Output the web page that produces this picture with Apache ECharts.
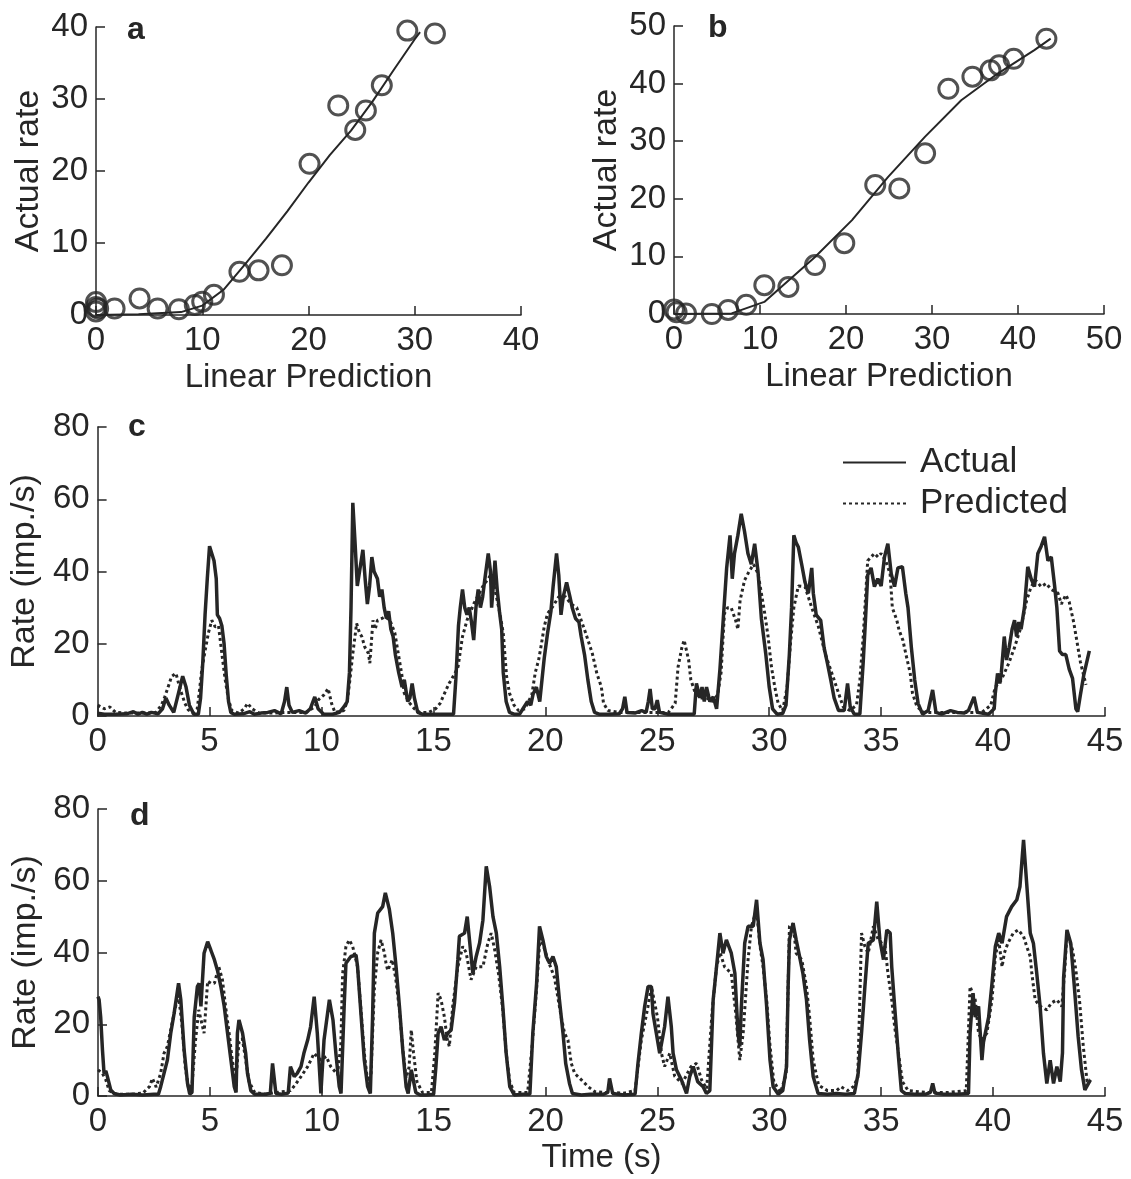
<!DOCTYPE html>
<html>
<head>
<meta charset="utf-8">
<script src="https://cdn.jsdelivr.net/npm/echarts@6/dist/echarts.min.js"></script>
<style>
html,body{margin:0;padding:0;background:#fff;}
#chart{width:1131px;height:1179px;}
</style>
</head>
<body>
<div id="chart"></div>
<script>
// ---------- Panel a: scatter (Linear Prediction, Actual rate) ----------
const aPoints = [[0,0.5],[0,1.1],[0,1.8],[0.2,0.9],[1.75,0.9],[4.1,2.3],[5.8,0.9],[7.8,0.8],[9.3,1.4],[10.0,1.85],[11.1,2.8],[13.5,6.0],[15.3,6.2],[17.5,6.9],[20.1,21.0],[22.8,29.1],[24.4,25.7],[25.4,28.4],[26.9,31.9],[29.3,39.5],[31.9,39.1]];
const aFit = [[0,0],[4,0.1],[8,0.4],[10,1.3],[12,3.5],[14,7],[16,10.6],[18,14.4],[20,18.4],[22,22.2],[24,25.6],[26,29.6],[28,34],[30,38.3],[30.5,39.3]];

// ---------- Panel b ----------
const bPoints = [[0,0.8],[0.3,0.3],[1.4,0.1],[4.4,0],[6.3,0.7],[8.4,1.6],[10.5,5.0],[13.3,4.7],[16.4,8.5],[19.8,12.3],[23.4,22.4],[26.2,21.8],[29.2,27.9],[31.9,39.1],[34.7,41.2],[36.8,42.3],[37.8,43.2],[39.5,44.3],[43.3,47.8]];
const bFit = [[0,0],[6.7,0.1],[10.5,2.1],[16.4,9.9],[20.7,16.3],[24.9,23.8],[29.2,30.8],[33.4,37.1],[37.6,41.7],[41.9,45.8],[43.8,47.8]];

// ---------- Panel c: time series (Time s, Rate imp./s) ----------
const cActual = [[0,0.8],[0.3,0.5],[0.8,0.5],[1.3,0.6],[1.6,1.2],[1.8,0.5],[2.0,1.0],[2.2,0.5],[2.4,1.0],[2.7,0.6],[2.9,2],[3.05,5],[3.2,3],[3.4,1],[3.6,6],[3.8,11],[3.95,8],[4.1,3],[4.3,0.5],[4.5,0.5],[4.6,5],[4.7,15],[4.8,28],[4.9,38],[5.0,47],[5.1,45],[5.2,43],[5.3,38],[5.35,28],[5.45,27],[5.55,25],[5.65,20],[5.75,11],[5.85,4],[5.95,1],[6.1,0.5],[6.5,0.6],[6.8,1.2],[7.0,0.5],[7.3,0.8],[7.6,1.0],[7.9,1.5],[8.2,0.6],[8.35,4],[8.45,8],[8.55,3],[8.7,1],[9.0,1.5],[9.3,0.8],[9.5,2],[9.7,5.3],[9.85,2],[10.1,0.5],[10.5,0.5],[10.8,1.0],[11.0,2.5],[11.15,4],[11.25,12],[11.32,30],[11.4,59],[11.5,48],[11.6,36],[11.7,40],[11.85,46],[11.95,38],[12.05,31],[12.15,36],[12.25,44],[12.35,40],[12.5,38],[12.6,33],[12.7,35],[12.8,30],[12.9,27],[13.0,29],[13.1,24],[13.2,22],[13.3,17],[13.45,12],[13.6,8],[13.7,10],[13.85,4],[13.95,5],[14.05,9],[14.15,5],[14.3,1],[14.5,0.5],[15.0,0.5],[15.5,0.5],[15.9,0.5],[16.0,10],[16.05,16],[16.12,25],[16.2,30],[16.3,35],[16.4,30],[16.5,28],[16.6,30],[16.7,26],[16.8,21],[16.9,30],[17.0,35],[17.1,30],[17.2,33],[17.3,38],[17.45,45],[17.55,40],[17.6,30],[17.7,38],[17.75,43],[17.85,35],[17.95,29],[18.05,24],[18.12,12],[18.25,4],[18.4,1],[18.6,0.5],[18.85,0.5],[19.0,2],[19.2,4],[19.35,3],[19.45,6],[19.6,8],[19.75,4],[19.85,10],[19.95,16],[20.1,23],[20.25,29],[20.35,36],[20.5,45],[20.6,39],[20.7,28],[20.8,33],[20.95,37],[21.1,33],[21.2,30],[21.35,27],[21.5,26],[21.6,22],[21.75,17],[21.9,10],[22.05,4],[22.2,1],[22.4,0.5],[22.8,0.5],[23.3,0.6],[23.45,2],[23.55,5.3],[23.65,1],[24.0,0.8],[24.3,1.5],[24.5,1],[24.6,4],[24.68,7.5],[24.78,2],[24.9,2],[25.0,4.4],[25.1,1],[25.5,0.5],[26.0,0.5],[26.65,0.5],[26.75,9],[26.9,5],[27.0,8],[27.1,4],[27.2,8],[27.35,4],[27.5,5.3],[27.65,2],[27.8,13],[27.95,27],[28.1,41],[28.25,50],[28.35,38],[28.45,45],[28.6,50],[28.75,56],[28.9,51],[29.05,45],[29.2,42],[29.35,47.7],[29.5,40],[29.65,27],[29.85,17],[30.0,8],[30.15,2],[30.35,0.5],[30.6,0.7],[30.75,3],[30.9,17],[31.0,30],[31.1,50],[31.2,48],[31.3,46.8],[31.45,42],[31.6,37],[31.75,34],[31.9,41],[31.97,34],[32.1,28],[32.3,26.5],[32.45,19],[32.6,14.6],[32.75,10],[32.9,5],[33.1,1.5],[33.35,1.5],[33.5,9],[33.62,2.5],[33.8,0.5],[34.05,0.5],[34.2,15],[34.3,26.5],[34.4,39],[34.55,41],[34.7,35.8],[34.85,38],[35.0,36],[35.15,44],[35.3,47.7],[35.45,39.4],[35.6,35.8],[35.75,41],[35.95,41.3],[36.1,34],[36.2,30],[36.35,19],[36.5,10],[36.65,3.5],[36.85,0.5],[37.1,1.5],[37.3,7.2],[37.45,1],[37.7,0.5],[38.1,1.5],[38.4,1],[38.7,0.8],[38.9,1.5],[39.15,5.3],[39.3,1],[39.8,0.5],[40.05,2],[40.1,6.3],[40.2,11.8],[40.3,9],[40.37,12],[40.5,22],[40.6,15.5],[40.72,19],[40.85,24],[40.96,26.5],[41.05,22],[41.15,26],[41.25,24],[41.4,30],[41.55,41.3],[41.7,38],[41.85,35.8],[42.0,45],[42.15,47],[42.3,49.6],[42.45,43],[42.6,44],[42.75,36],[42.85,30],[42.97,18],[43.1,17],[43.25,17],[43.4,13],[43.55,10.4],[43.7,2],[43.78,1.2],[43.9,5.8],[44.05,11.3],[44.3,18]];
const cPredicted = [[0,3],[0.3,2],[0.55,2.5],[0.8,1],[1.2,0.8],[1.7,0.8],[2.2,0.8],[2.6,1],[2.85,3],[3.0,5.3],[3.15,8],[3.3,10.9],[3.5,11.8],[3.62,9],[3.75,6.3],[3.9,3.5],[4.05,1.7],[4.25,0.8],[4.45,2],[4.55,7],[4.65,12.7],[4.8,18],[4.95,23],[5.1,26.5],[5.25,24.7],[5.4,25],[5.55,17.3],[5.7,10],[5.85,4.4],[6.0,1.5],[6.3,0.8],[6.55,2],[6.7,3.5],[6.9,2],[7.2,0.8],[7.8,0.8],[8.4,1],[8.8,1],[9.3,1],[9.7,2.5],[9.85,4.4],[10.1,5.8],[10.3,7.6],[10.45,3.5],[10.6,1],[11.0,1.5],[11.15,4],[11.27,10],[11.4,17.3],[11.57,25.6],[11.7,23],[11.8,22],[11.94,19],[12.1,17.3],[12.16,14.6],[12.3,26.5],[12.4,24],[12.5,26.5],[12.7,27],[12.84,27.5],[13.06,26.5],[13.28,22.9],[13.43,17.3],[13.58,11.8],[13.7,6.3],[13.95,3.5],[14.15,2],[14.4,1],[14.8,1],[15.1,2],[15.3,3.5],[15.5,6.3],[15.7,9],[15.96,11.8],[16.1,13.6],[16.3,22],[16.5,26.5],[16.8,31],[17.2,35.8],[17.6,39.4],[17.97,28.4],[18.12,22.9],[18.19,17.3],[18.27,10.9],[18.4,6.3],[18.6,3],[18.8,1.5],[19.1,2],[19.4,6],[19.55,12],[19.7,15.5],[19.8,19],[19.95,24.7],[20.1,28.4],[20.3,30],[20.6,33],[20.9,33],[21.15,31],[21.4,30],[21.6,26.5],[21.8,23],[22.1,17.3],[22.3,11.8],[22.5,8.1],[22.6,3.5],[22.8,1.5],[23.3,1],[24,1],[24.8,1],[25.5,1],[25.8,3.5],[25.93,13.6],[26.1,19],[26.2,21],[26.4,15.5],[26.5,10],[26.7,6.3],[26.9,5],[27.2,5],[27.5,4],[27.7,6],[27.85,12],[28.0,28.4],[28.15,30],[28.3,30],[28.5,26.5],[28.6,24],[28.7,32],[28.9,37.6],[29.1,40],[29.3,42],[29.5,39.4],[29.65,34],[29.8,28.4],[29.95,22],[30.1,13.6],[30.25,8],[30.4,3.5],[30.6,1.5],[30.8,8],[30.95,20],[31.1,30],[31.3,36],[31.6,35.8],[31.9,30],[32.2,24.7],[32.5,17.3],[32.8,11.8],[33.1,6.3],[33.3,2.6],[33.6,1.5],[33.9,3],[34.05,10],[34.2,22],[34.4,43],[34.7,45],[34.86,44],[35.0,45],[35.2,43],[35.4,39.4],[35.5,30],[35.7,26.5],[35.8,23.8],[35.97,21],[36.1,17.3],[36.3,11.8],[36.4,6.3],[36.6,2.6],[36.9,1],[37.5,1],[38.5,1],[39.5,1],[39.9,3],[40.1,8],[40.37,10],[40.7,14.6],[40.96,19],[41.25,24.7],[41.5,32],[41.7,35.8],[41.9,37.6],[42.15,35.8],[42.37,36.7],[42.6,35],[42.9,34],[43.05,31],[43.25,33.5],[43.4,31.6],[43.6,26],[43.75,20.5],[43.9,15],[44.15,8.6]];

// ---------- Panel d ----------
const dActual = [[0,27.7],[0.05,26.8],[0.12,22],[0.2,12.8],[0.27,6.3],[0.35,7],[0.42,5.4],[0.57,1.7],[0.72,0.7],[1.0,0.3],[1.5,0.5],[2.0,0.3],[2.5,0.5],[2.7,0.5],[2.8,2.6],[2.95,6.3],[3.1,10],[3.25,17.5],[3.4,23],[3.6,31.4],[3.7,26.8],[3.85,12.8],[4.0,3.5],[4.1,0.5],[4.2,1],[4.3,22],[4.44,30.5],[4.52,31.4],[4.6,25],[4.74,39.8],[4.9,43],[5.04,40.7],[5.2,38],[5.34,35],[5.49,30.5],[5.64,25],[5.79,17.5],[5.94,10],[6.09,2.6],[6.17,1],[6.23,17.5],[6.3,21.2],[6.46,17.5],[6.6,11.9],[6.68,6.3],[6.83,1.5],[7.0,0.5],[7.5,0.5],[7.7,0.8],[7.8,9.1],[7.95,0.7],[8.2,0.5],[8.5,0.8],[8.6,8.2],[8.77,5.4],[8.9,6.3],[9.07,8.2],[9.2,11.9],[9.37,15.6],[9.5,19.3],[9.66,27.7],[9.8,17.5],[9.96,0.7],[10.1,15.6],[10.34,26.8],[10.5,21.2],[10.63,11.9],[10.78,2.6],[10.86,0.7],[11.0,25],[11.08,37],[11.3,38.9],[11.53,39.3],[11.6,36],[11.75,23],[11.9,10],[12.05,2.6],[12.17,0.7],[12.27,22],[12.35,45.4],[12.5,51],[12.72,52.8],[12.84,56.6],[13.02,52],[13.17,45.4],[13.32,36],[13.47,25],[13.62,12.8],[13.77,2.6],[13.86,0.7],[14.0,7.3],[14.2,1],[14.4,0.3],[14.7,0.3],[15.0,0.5],[15.1,8.2],[15.2,17.5],[15.33,19.3],[15.48,15.6],[15.63,17.5],[15.78,18.4],[15.93,25.9],[16.08,38],[16.15,44.5],[16.38,45.4],[16.5,50],[16.6,43.5],[16.75,34.2],[16.9,38.9],[17.05,42.6],[17.2,49],[17.35,64],[17.5,58.4],[17.65,50],[17.8,45.4],[17.95,36],[18.09,25],[18.24,11.9],[18.4,2.6],[18.6,0.3],[19.0,0.5],[19.3,0.5],[19.43,17.5],[19.6,31.4],[19.73,47.3],[19.88,43.5],[20.03,38.9],[20.18,37],[20.33,38.9],[20.48,36],[20.62,26.8],[20.78,17.5],[20.9,9.1],[21.07,3.5],[21.2,0.7],[21.6,0.3],[22.0,0.5],[22.6,0.5],[22.78,1],[22.86,4.9],[23.0,0.7],[23.5,0.3],[24.0,0.5],[24.13,9.1],[24.28,17.5],[24.43,25],[24.58,30.5],[24.73,30.5],[24.8,23],[24.95,17.5],[25.1,11.9],[25.32,19.3],[25.47,27.7],[25.62,19.3],[25.7,11.9],[25.85,7.3],[26.07,4.5],[26.3,0.7],[26.44,5.4],[26.6,8.2],[26.8,4],[27.04,2.6],[27.19,0.7],[27.34,1.5],[27.49,26.8],[27.64,36],[27.79,45.4],[27.93,39.8],[28.08,43.5],[28.16,43.5],[28.3,39.8],[28.46,34.2],[28.6,17.5],[28.68,13.8],[28.75,25],[28.9,42.6],[29.05,47.3],[29.28,47.3],[29.43,54.7],[29.58,42.6],[29.72,38],[29.88,25],[30.03,10],[30.17,2.6],[30.4,0.5],[30.6,1.5],[30.77,8.2],[30.84,30.5],[30.9,43.5],[31.06,48.2],[31.2,43.5],[31.35,38.9],[31.5,34.2],[31.66,26.8],[31.8,15.6],[31.96,5.4],[32.18,0.7],[32.6,0.5],[33.0,0.7],[33.4,0.5],[33.8,0.7],[33.97,6.3],[34.12,17.5],[34.27,30.5],[34.42,42.6],[34.65,43.5],[34.8,54.2],[34.94,43.5],[35.1,38],[35.25,46.3],[35.4,45.4],[35.47,36],[35.6,25],[35.77,11],[35.9,1.5],[36.07,0.7],[36.5,0.5],[37.0,0.5],[37.2,1],[37.3,3.5],[37.4,0.8],[37.8,0.5],[38.4,0.5],[38.9,0.7],[38.97,17.5],[39.1,28.7],[39.2,22],[39.35,25],[39.5,10],[39.57,15],[39.8,22],[39.95,31.4],[40.1,41.7],[40.25,45.4],[40.4,42.6],[40.6,50],[40.83,52.8],[41.06,54.7],[41.2,58.4],[41.36,71.4],[41.5,59.3],[41.66,45.4],[41.8,42.6],[41.95,34.2],[42.1,25],[42.25,11.9],[42.4,3.5],[42.55,10],[42.7,3.5],[42.85,8.2],[43.0,4],[43.1,12],[43.15,33],[43.3,46.3],[43.47,42.6],[43.63,30.5],[43.8,16.6],[43.95,7.3],[44.1,1.7],[44.35,4.5]];
const dPredicted = [[0,7.3],[0.2,6.3],[0.35,4.5],[0.5,1.5],[0.8,0.5],[1.5,0.5],[2.0,0.8],[2.3,2.6],[2.43,4.9],[2.6,2.5],[2.8,6.3],[2.95,11.9],[3.1,13.8],[3.3,20],[3.47,25],[3.6,28],[3.75,20],[3.9,8],[4.05,2],[4.2,3],[4.35,15],[4.5,24],[4.74,17.5],[4.9,32],[5.05,31.4],[5.2,31.4],[5.4,36],[5.56,32.4],[5.7,25],[5.86,17.5],[6.0,10],[6.16,4.5],[6.3,15],[6.45,16],[6.6,10],[6.75,4],[7.0,1],[7.5,0.5],[8.0,1],[8.6,1.5],[8.8,3],[9.07,5.4],[9.37,8.2],[9.66,11.9],[9.96,10],[10.2,11],[10.4,8.2],[10.7,6],[10.85,14],[10.93,34],[11.08,41.7],[11.23,43.5],[11.38,41.7],[11.6,36],[11.75,24],[11.9,12],[12.05,4],[12.2,6],[12.35,30],[12.5,40],[12.65,43.5],[12.8,39.8],[12.87,37],[12.95,35],[13.15,38],[13.3,33],[13.47,24],[13.62,13],[13.77,5],[13.9,8],[14.0,18.4],[14.1,12],[14.25,4],[14.5,1],[14.9,1],[15.05,12],[15.2,28.7],[15.33,26.8],[15.48,22],[15.6,16],[15.7,13.8],[15.85,25],[16.08,36],[16.3,41.7],[16.45,40],[16.67,32.4],[16.9,36],[17.2,36],[17.42,42.6],[17.57,45.4],[17.72,41],[17.9,34],[18.09,24],[18.24,12],[18.4,4],[18.6,1],[19.2,1],[19.4,14],[19.6,30],[19.75,44],[19.9,42],[20.1,38],[20.4,33],[20.7,22],[20.85,17.5],[21.0,15.6],[21.15,9.1],[21.3,6.3],[21.6,4.5],[21.9,2.6],[22.2,1.2],[22.6,1],[23.0,1],[23.5,0.8],[24.0,1.5],[24.28,15.6],[24.58,25],[24.73,30.5],[25.0,22],[25.18,11.9],[25.32,8.2],[25.55,11.9],[25.77,5.5],[26.1,3.5],[26.5,8.2],[26.75,9.1],[26.97,4.5],[27.2,2],[27.45,24],[27.64,36],[27.8,40],[28.0,36],[28.3,34.2],[28.5,23],[28.68,10],[28.83,17.5],[29.05,38],[29.2,47.3],[29.43,51.9],[29.58,42],[29.72,36],[29.88,26.8],[30.03,14],[30.2,4],[30.5,1],[30.75,6],[30.9,47.3],[31.06,48],[31.2,39.8],[31.45,38],[31.66,30.5],[31.8,22],[31.96,10],[32.2,3],[32.6,1.5],[33.0,1.5],[33.2,2.6],[33.5,1.5],[33.75,2.6],[33.95,5],[34.12,45.4],[34.27,41.7],[34.42,39.8],[34.65,47.3],[34.87,43.5],[35.17,41.7],[35.3,34.2],[35.47,26.8],[35.6,19.3],[35.77,11.9],[35.95,4],[36.2,1.5],[37,1],[38,1],[38.8,1.5],[38.97,30.5],[39.2,26.8],[39.35,17.5],[39.5,15.6],[39.72,17.5],[39.95,26.8],[40.1,38.9],[40.25,43.5],[40.4,36],[40.5,39.8],[40.66,42.6],[40.9,45.4],[41.12,46.3],[41.36,44.5],[41.5,41.7],[41.66,38.9],[41.73,34.2],[41.88,26.8],[42.1,25],[42.4,24],[42.6,25.9],[42.85,26.8],[43.07,25],[43.2,35],[43.3,45.4],[43.55,40.7],[43.7,35],[43.87,26],[44.03,13.8],[44.2,4],[44.35,4.5]];

// ---------- Text ----------
const panelLetters = ['a','b','c','d'];
const seriesNames = ['Actual','Predicted'];
const xNames = ['Linear Prediction','Linear Prediction','','Time (s)'];
const yNames = ['Actual rate','Actual rate','Rate (imp./s)','Rate (imp./s)'];

const INK = '#262626';
const FONT = '"Liberation Sans", Arial, Helvetica, sans-serif';

function xAxis(gi, max, interval, name, gap){
  return {type:'value', gridIndex:gi, min:0, max:max, interval:interval,
    name:name, nameLocation:'middle', nameGap:gap,
    nameTextStyle:{fontSize:33, color:INK, fontFamily:FONT},
    axisLine:{show:true, onZero:false, lineStyle:{color:INK, width:1.5}},
    axisTick:{show:true, inside:true, length:9, lineStyle:{color:INK, width:1.5}},
    axisLabel:{fontSize:33, color:INK, fontFamily:FONT, margin:9, showMinLabel:true, showMaxLabel:true},
    splitLine:{show:false}};
}
function yAxis(gi, max, interval, name, gap){
  return {type:'value', gridIndex:gi, min:0, max:max, interval:interval,
    name:name, nameLocation:'middle', nameGap:gap,
    nameTextStyle:{fontSize:34, color:INK, fontFamily:FONT},
    axisLine:{show:true, onZero:false, lineStyle:{color:INK, width:1.5}},
    axisTick:{show:true, inside:true, length:9, lineStyle:{color:INK, width:1.5}},
    axisLabel:{fontSize:33, color:INK, fontFamily:FONT, margin:8, showMinLabel:true, showMaxLabel:true},
    splitLine:{show:false}};
}
function scatter(gi, data){
  return {type:'scatter', xAxisIndex:gi, yAxisIndex:gi, data:data, symbol:'circle', symbolSize:19,
    itemStyle:{color:'rgba(255,255,255,0)', borderColor:INK, borderWidth:3}, z:3, silent:true};
}
function fitLine(gi, data){
  return {type:'line', xAxisIndex:gi, yAxisIndex:gi, data:data, symbol:'none', showSymbol:false,
    lineStyle:{color:INK, width:2}, z:2, silent:true};
}
function trace(gi, name, data, dashed){
  return {type:'line', name:name, xAxisIndex:gi, yAxisIndex:gi, data:data, symbol:'none', showSymbol:false,
    lineStyle:{color:INK, width:dashed?3:3.5, type:dashed?[3,3]:'solid'},
    itemStyle:{color:INK}, z:dashed?3:2, silent:true};
}

const chart = echarts.init(document.getElementById('chart'), null, {renderer:'canvas'});
chart.setOption({
  animation:false,
  backgroundColor:'#ffffff',
  textStyle:{fontFamily:FONT},
  grid:[
    {left:96, top:27, width:425, height:288},
    {left:674, top:26, width:430, height:288},
    {left:97, top:427, width:1008, height:289},
    {left:98, top:809, width:1007, height:287}
  ],
  xAxis:[
    xAxis(0, 40, 10, xNames[0], 46),
    xAxis(1, 50, 10, xNames[1], 46),
    xAxis(2, 45, 5, xNames[2], 45),
    xAxis(3, 45, 5, xNames[3], 45)
  ],
  yAxis:[
    yAxis(0, 40, 10, yNames[0], 50),
    yAxis(1, 50, 10, yNames[1], 50),
    yAxis(2, 80, 20, yNames[2], 50),
    yAxis(3, 80, 20, yNames[3], 50)
  ],
  legend:{
    data:seriesNames, orient:'vertical', left:837, top:440,
    itemWidth:63, itemHeight:14, itemGap:6,
    itemStyle:{opacity:0},
    textStyle:{fontSize:35, color:INK, fontFamily:FONT, padding:[0,0,0,9]},
    selectedMode:false
  },
  graphic:[
    {type:'text', left:127, top:14, style:{text:panelLetters[0], fontSize:32, fontWeight:'bold', fill:INK, fontFamily:FONT}},
    {type:'text', left:708, top:12, style:{text:panelLetters[1], fontSize:32, fontWeight:'bold', fill:INK, fontFamily:FONT}},
    {type:'text', left:128, top:411, style:{text:panelLetters[2], fontSize:32, fontWeight:'bold', fill:INK, fontFamily:FONT}},
    {type:'text', left:130, top:800, style:{text:panelLetters[3], fontSize:32, fontWeight:'bold', fill:INK, fontFamily:FONT}}
  ],
  series:[
    fitLine(0, aFit), scatter(0, aPoints),
    fitLine(1, bFit), scatter(1, bPoints),
    trace(2, seriesNames[0], cActual, false), trace(2, seriesNames[1], cPredicted, true),
    trace(3, seriesNames[0], dActual, false), trace(3, seriesNames[1], dPredicted, true)
  ]
});
</script>
</body>
</html>
